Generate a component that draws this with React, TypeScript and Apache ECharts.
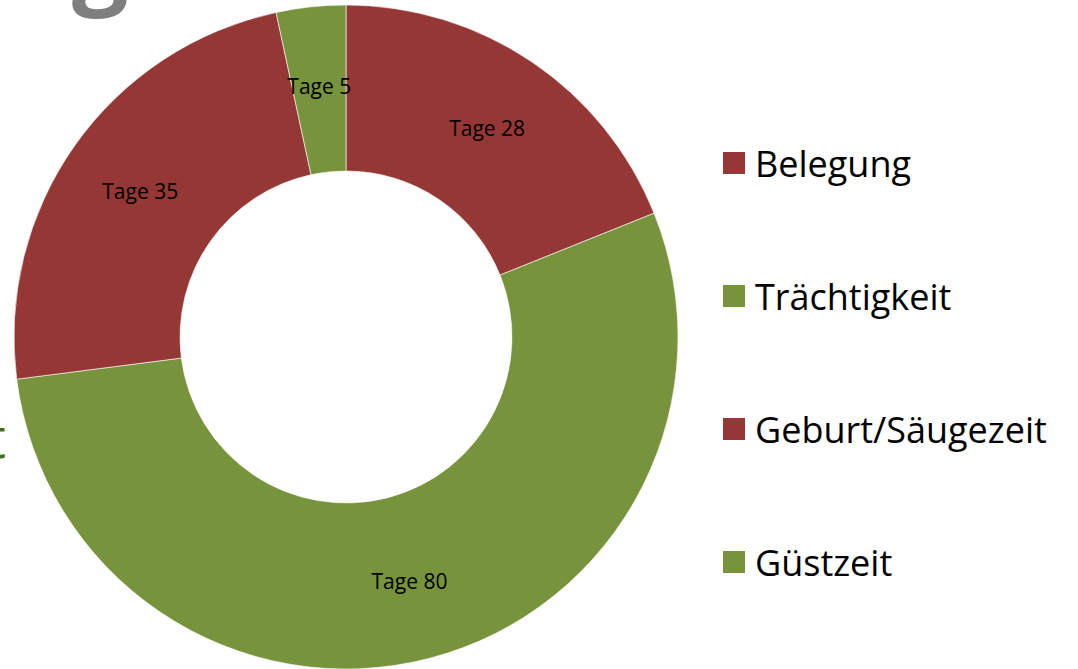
import React, { useEffect, useRef } from "react";
import * as echarts from "echarts";

const categories = ["Belegung", "Trächtigkeit", "Geburt/Säugezeit", "Güstzeit"];
const values = [28, 80, 35, 5];
const labelPrefix = "Tage";
const colors = ["#953735", "#77933C", "#953735", "#77933C"];

export default function App() {
  const ref = useRef<HTMLDivElement>(null);
  useEffect(() => {
    document.body.style.margin = "0";
    const chart = echarts.init(ref.current!, null, { renderer: "svg" });
    chart.setOption({
      animation: false,
      backgroundColor: "#ffffff",
      legend: {
        orient: "vertical",
        left: 721,
        top: 145,
        padding: 0,
        itemWidth: 24,
        itemHeight: 24,
        itemGap: 97,
        icon: "rect",
        textStyle: {
          fontFamily: "Open Sans",
          fontSize: 36,
          color: "#000000",
          padding: [0, 0, 0, 4],
        },
        data: categories,
      },
      graphic: [
        {
          type: "text",
          left: 72,
          top: -94,
          style: {
            text: "g",
            fontFamily: "Open Sans",
            fontWeight: "bold",
            fontSize: 100,
            fill: "#7f7f7f",
          },
        },
        {
          type: "text",
          left: -14,
          top: 408,
          style: {
            text: "t",
            fontFamily: "Open Sans",
            fontSize: 56,
            fill: "#3B6E22",
          },
        },
      ],
      series: [
        {
          type: "pie",
          center: [346, 337],
          radius: [166, 332],
          startAngle: 90,
          clockwise: true,
          avoidLabelOverlap: false,
          itemStyle: { borderColor: "#ffffff", borderWidth: 0.6 },
          label: {
            show: true,
            position: "inside",
            formatter: (p: any) => `${labelPrefix} ${p.value}`,
            fontFamily: "Open Sans",
            fontSize: 21,
            color: "#000000",
            padding: [5, 0, 0, 0],
          },
          labelLine: { show: false },
          emphasis: { disabled: true },
          data: categories.map((name, i) => ({
            name,
            value: values[i],
            itemStyle: { color: colors[i] },
          })),
        },
      ],
    });
    return () => chart.dispose();
  }, []);
  return (
    <div
      ref={ref}
      style={{ position: "fixed", left: 0, top: 0, width: 1078, height: 669 }}
    />
  );
}
